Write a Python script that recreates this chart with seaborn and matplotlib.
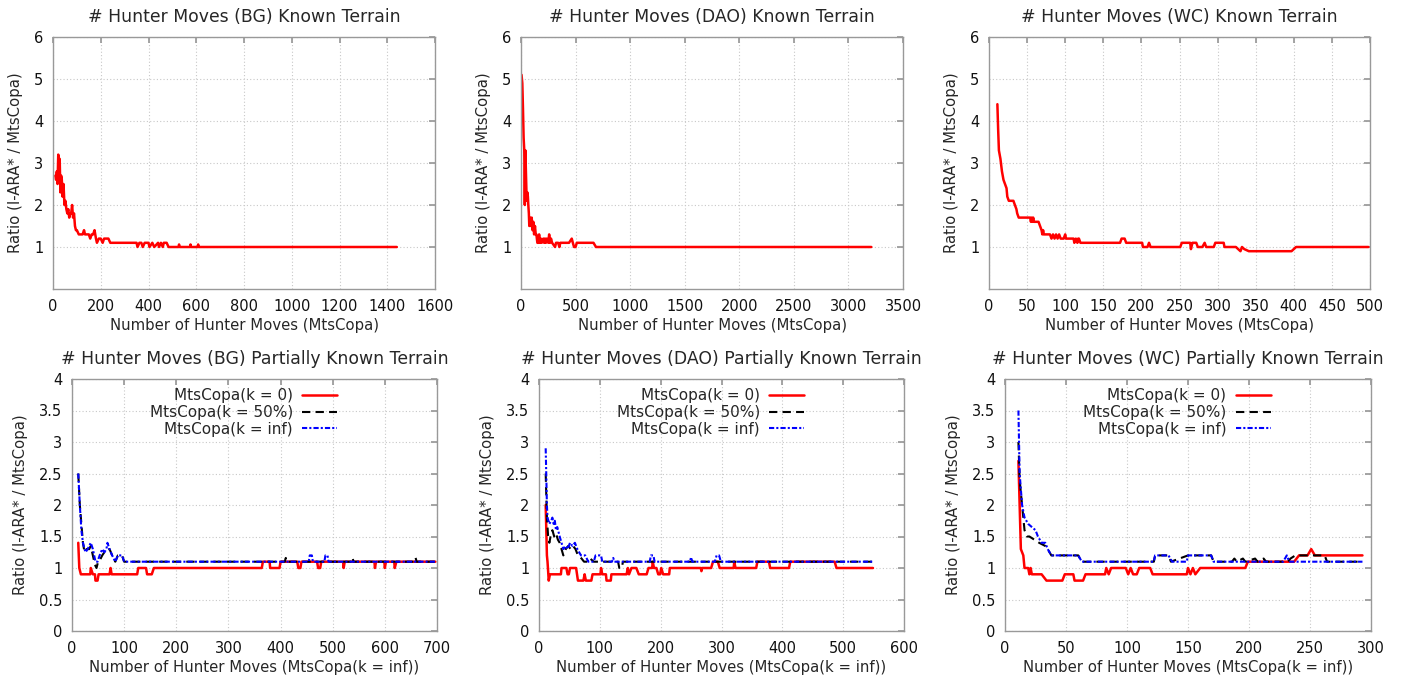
import numpy as np
import matplotlib
matplotlib.use("Agg")
import matplotlib.pyplot as plt
import seaborn as sns

# ---- data: (moves, ratio) pairs ----
bg_known = [(10, 2.7), (13, 2.6), (16, 2.8), (19, 2.5), (22, 3.2), (25, 3.0), (28, 3.1), (31, 2.3),
            (34, 2.7), (37, 2.6), (40, 2.2), (44, 2.5), (48, 2.0), (52, 2.1), (56, 1.9), (60, 1.8),
            (64, 1.9), (68, 1.7), (72, 1.8), (76, 1.8), (80, 2.0), (84, 1.7), (88, 1.8), (92, 1.5),
            (96, 1.4), (100, 1.4), (108, 1.3), (124, 1.3), (130, 1.4), (134, 1.3), (150, 1.3),
            (156, 1.2), (162, 1.3), (168, 1.3), (174, 1.4), (180, 1.2), (184, 1.1), (192, 1.2),
            (200, 1.2), (208, 1.1), (214, 1.2), (232, 1.2), (240, 1.1), (350, 1.1), (354, 1.0),
            (362, 1.1), (370, 1.1), (376, 1.0), (384, 1.1), (400, 1.1), (404, 1.0), (416, 1.1),
            (424, 1.0), (440, 1.1), (444, 1.0), (452, 1.1), (460, 1.0), (464, 1.1), (476, 1.1),
            (484, 1.0), (526, 1.0), (528, 1.06), (530, 1.0), (574, 1.0), (576, 1.06), (578, 1.0),
            (606, 1.0), (608, 1.06), (610, 1.0), (1440, 1.0)]

dao_known = [(5, 5.1), (12, 4.9), (18, 4.3), (24, 3.6), (30, 3.3), (35, 2.0), (40, 3.3), (45, 2.8),
             (52, 2.1), (58, 2.3), (63, 2.2), (67, 2.0), (72, 1.8), (76, 1.5), (83, 1.7), (90, 1.5),
             (98, 1.7), (106, 1.4), (113, 1.6), (120, 1.3), (128, 1.5), (135, 1.3), (141, 1.3),
             (150, 1.1), (159, 1.1), (166, 1.3), (174, 1.1), (182, 1.2), (190, 1.1), (205, 1.2),
             (212, 1.1), (220, 1.2), (228, 1.1), (236, 1.2), (250, 1.1), (258, 1.3), (266, 1.1),
             (275, 1.2), (285, 1.1), (312, 1.0), (321, 1.1), (340, 1.1), (352, 1.0), (360, 1.1),
             (440, 1.1), (465, 1.2), (475, 1.1), (486, 1.0), (500, 1.0), (511, 1.1), (664, 1.1),
             (687, 1.0), (3210, 1.0)]

wc_known = [(11, 4.4), (12, 3.8), (13, 3.3), (15, 3.1), (17, 2.8), (19, 2.6), (21, 2.5), (23, 2.4),
            (24, 2.2), (26, 2.1), (32, 2.1), (34, 2.0), (36, 1.9), (37, 1.8), (39, 1.7), (54, 1.7),
            (55, 1.6), (56, 1.7), (57, 1.6), (58, 1.7), (59, 1.6), (65, 1.6), (67, 1.5), (69, 1.4),
            (70, 1.3), (71, 1.4), (72, 1.3), (80, 1.3), (82, 1.2), (84, 1.3), (86, 1.2), (88, 1.3),
            (90, 1.2), (92, 1.3), (94, 1.2), (98, 1.2), (100, 1.3), (101, 1.2), (111, 1.2),
            (112, 1.1), (114, 1.2), (116, 1.1), (117, 1.2), (118, 1.2), (120, 1.1), (172, 1.1),
            (174, 1.2), (178, 1.2), (180, 1.1), (201, 1.1), (202, 1.0), (208, 1.0), (210, 1.1),
            (212, 1.0), (251, 1.0), (253, 1.1), (264, 1.1), (265, 0.95), (267, 1.1), (272, 1.1),
            (274, 1.0), (280, 1.0), (283, 1.1), (285, 1.0), (295, 1.0), (297, 1.1), (308, 1.1),
            (309, 1.0), (324, 1.0), (330, 0.9), (332, 1.0), (335, 0.95), (341, 0.9), (397, 0.9),
            (403, 1.0), (498, 1.0)]

bg_k0 = [(12, 1.4), (14, 1.0), (17, 0.9), (35, 0.9), (36, 1.0), (40, 0.9), (44, 0.9), (45, 0.8),
         (49, 0.8), (51, 0.9), (72, 0.9), (74, 1.0), (76, 0.9), (125, 0.9), (127, 1.0), (142, 1.0),
         (144, 0.9), (153, 0.9), (157, 1.0), (364, 1.0), (366, 1.1), (379, 1.1), (380, 1.0),
         (398, 1.0), (400, 1.1), (432, 1.1), (434, 1.0), (438, 1.0), (440, 1.1), (470, 1.1),
         (472, 1.0), (476, 1.0), (478, 1.1), (520, 1.1), (521, 1.0), (523, 1.1), (580, 1.1),
         (581, 1.0), (583, 1.1), (599, 1.1), (600, 1.0), (602, 1.1), (618, 1.1), (619, 1.0),
         (622, 1.1), (697, 1.1)]
bg_k50 = [(12, 2.5), (15, 2.0), (18, 1.7), (21, 1.4), (24, 1.25), (28, 1.3), (33, 1.3), (36, 1.35),
          (40, 1.2), (44, 1.05), (47, 1.0), (50, 1.1), (55, 1.15), (58, 1.2), (62, 1.25), (66, 1.3),
          (72, 1.3), (77, 1.2), (83, 1.1), (88, 1.2), (96, 1.2), (100, 1.1), (408, 1.1), (410, 1.16),
          (412, 1.1), (536, 1.1), (538, 1.16), (540, 1.1), (657, 1.1), (659, 1.16), (661, 1.1),
          (697, 1.1)]
bg_kinf = [(12, 2.5), (15, 2.0), (18, 1.6), (21, 1.4), (24, 1.3), (26, 1.25), (30, 1.3), (33, 1.35),
           (36, 1.4), (40, 1.3), (45, 1.1), (49, 1.1), (53, 1.2), (58, 1.3), (62, 1.25), (66, 1.3),
           (68, 1.4), (72, 1.3), (77, 1.2), (83, 1.1), (88, 1.2), (96, 1.2), (100, 1.1), (454, 1.1),
           (456, 1.2), (460, 1.2), (462, 1.1), (484, 1.1), (486, 1.2), (490, 1.2), (492, 1.1),
           (697, 1.1)]

dao_k0 = [(11, 2.0), (13, 1.2), (14, 1.1), (16, 0.8), (18, 0.9), (36, 0.9), (37, 1.0), (45, 1.0),
          (47, 0.9), (49, 0.9), (51, 1.0), (61, 1.0), (64, 0.8), (73, 0.8), (75, 0.9), (77, 0.8),
          (86, 0.8), (88, 0.9), (101, 0.9), (102, 1.0), (104, 0.9), (110, 0.9), (111, 0.8),
          (118, 0.8), (119, 0.9), (144, 0.9), (146, 1.0), (148, 0.9), (152, 1.0), (160, 1.0),
          (164, 0.9), (177, 0.9), (180, 1.0), (186, 1.0), (187, 1.1), (189, 1.0), (193, 1.0),
          (196, 0.9), (199, 0.9), (201, 1.0), (204, 0.9), (214, 0.9), (215, 1.0), (266, 1.0),
          (267, 0.95), (268, 1.0), (283, 1.0), (286, 1.1), (294, 1.1), (297, 1.0), (320, 1.0),
          (321, 1.1), (323, 1.0), (357, 1.0), (359, 1.1), (378, 1.1), (380, 1.0), (411, 1.0),
          (413, 1.1), (486, 1.1), (489, 1.0), (549, 1.0)]
dao_k50 = [(11, 2.5), (13, 1.8), (15, 1.5), (17, 1.4), (19, 1.5), (22, 1.6), (25, 1.5), (28, 1.55),
           (31, 1.45), (34, 1.4), (37, 1.3), (40, 1.2), (44, 1.3), (48, 1.35), (52, 1.3), (56, 1.35),
           (60, 1.3), (64, 1.2), (70, 1.15), (74, 1.1), (80, 1.1), (84, 1.15), (90, 1.1), (130, 1.1),
           (132, 1.0), (136, 1.0), (138, 1.1), (549, 1.1)]
dao_kinf = [(11, 2.9), (13, 2.0), (14, 1.8), (17, 1.7), (20, 1.75), (22, 1.8), (24, 1.7), (26, 1.75),
            (28, 1.6), (30, 1.65), (34, 1.5), (37, 1.4), (40, 1.3), (44, 1.35), (47, 1.3), (51, 1.4),
            (55, 1.35), (59, 1.4), (63, 1.3), (66, 1.25), (69, 1.2), (76, 1.2), (81, 1.1), (90, 1.1),
            (93, 1.2), (102, 1.2), (104, 1.1), (120, 1.1), (122, 1.16), (124, 1.1), (182, 1.1),
            (184, 1.2), (188, 1.2), (190, 1.1), (248, 1.1), (250, 1.17), (252, 1.1), (289, 1.1),
            (292, 1.2), (296, 1.2), (299, 1.1), (549, 1.1)]

wc_k0 = [(11, 2.7), (12, 2.0), (13, 1.3), (15, 1.2), (16, 1.0), (19, 1.0), (20, 0.9), (21, 1.0),
         (22, 0.9), (30, 0.9), (32, 0.85), (34, 0.8), (47, 0.8), (49, 0.9), (56, 0.9), (57, 0.8),
         (64, 0.8), (66, 0.9), (82, 0.9), (83, 1.0), (85, 0.9), (87, 1.0), (99, 1.0), (101, 0.9),
         (103, 1.0), (105, 0.9), (108, 0.9), (110, 1.0), (119, 1.0), (121, 0.9), (149, 0.9),
         (150, 1.0), (152, 0.9), (154, 1.0), (156, 0.9), (160, 1.0), (197, 1.0), (199, 1.1),
         (237, 1.1), (241, 1.2), (248, 1.2), (251, 1.3), (254, 1.2), (293, 1.2)]
wc_k50 = [(11, 3.0), (12, 2.4), (14, 2.0), (16, 1.6), (18, 1.5), (20, 1.5), (24, 1.45), (28, 1.4),
          (33, 1.35), (35, 1.3), (38, 1.2), (60, 1.2), (63, 1.1), (122, 1.1), (123, 1.2), (134, 1.2),
          (136, 1.1), (150, 1.2), (169, 1.2), (171, 1.1), (186, 1.1), (188, 1.15), (190, 1.1),
          (195, 1.15), (197, 1.1), (205, 1.15), (207, 1.1), (212, 1.15), (214, 1.1), (232, 1.1),
          (234, 1.15), (238, 1.2), (262, 1.2), (264, 1.1), (293, 1.1)]
wc_kinf = [(11, 3.5), (12, 2.5), (14, 2.0), (16, 1.8), (19, 1.7), (22, 1.65), (25, 1.6), (27, 1.5),
           (30, 1.4), (33, 1.4), (35, 1.3), (38, 1.2), (60, 1.2), (63, 1.1), (122, 1.1), (123, 1.2),
           (134, 1.2), (137, 1.1), (149, 1.1), (150, 1.2), (169, 1.2), (171, 1.1), (228, 1.1),
           (231, 1.2), (233, 1.1), (293, 1.1)]

known_titles = ["# Hunter Moves (BG) Known Terrain", "# Hunter Moves (DAO) Known Terrain",
                "# Hunter Moves (WC) Known Terrain"]
partial_titles = ["# Hunter Moves (BG) Partially Known Terrain",
                  "# Hunter Moves (DAO) Partially Known Terrain",
                  "# Hunter Moves (WC) Partially Known Terrain"]
known_xmax = [1600, 3500, 500]
known_xstep = [200, 500, 50]
partial_xmax = [700, 600, 300]
partial_xstep = [100, 100, 50]
series_labels = ["MtsCopa(k = 0)", "MtsCopa(k = 50%)", "MtsCopa(k = inf)"]

sns.set_theme(style="white")
plt.rcParams["font.family"] = ["DejaVu Sans"]

W, H = 1401, 676
fig = plt.figure(figsize=(W / 100, H / 100), dpi=100)


def make_axes(l, t, r, b):
    return fig.add_axes([l / W, 1 - b / H, (r - l) / W, (b - t) / H])


def style_axes(ax):
    for s in ax.spines.values():
        s.set_color("#999999")
        s.set_linewidth(1.0)
    ax.grid(True, color="#c8c8c8", linestyle=(0, (1, 2)), linewidth=0.8)
    ax.tick_params(direction="in", length=4, top=True, right=True, color="#999999",
                   labelsize=10.5, pad=7, labelcolor="#111111")


top_boxes = [(53, 37, 435, 289), (521, 37, 903, 289), (989, 37, 1370, 289)]
bot_boxes = [(72, 379, 437, 631), (539, 379, 904, 631), (1005, 379, 1371, 631)]

known_data = [bg_known, dao_known, wc_known]
partial_data = [(bg_k0, bg_k50, bg_kinf), (dao_k0, dao_k50, dao_kinf), (wc_k0, wc_k50, wc_kinf)]

for i in range(3):
    ax = make_axes(*top_boxes[i])
    x, y = zip(*known_data[i])
    sns.lineplot(x=list(x), y=list(y), ax=ax, color="#ff0000", lw=1.8, sort=False, estimator=None)
    ax.set_xlim(0, known_xmax[i])
    ax.set_ylim(0, 6)
    ax.set_xticks(np.arange(0, known_xmax[i] + 1, known_xstep[i]))
    ax.set_yticks([1, 2, 3, 4, 5, 6])
    style_axes(ax)
    ax.set_title(known_titles[i], fontsize=12.4, pad=11)
    ax.set_xlabel("Number of Hunter Moves (MtsCopa)", fontsize=10.7, labelpad=3)
    ax.set_ylabel("Ratio (I-ARA* / MtsCopa)", fontsize=10.7, labelpad=8)

styles = [("#ff0000", "-", 1.8), ("#000000", (0, (4, 2.5)), 1.5), ("#0000ff", (0, (2.5, 1, 1, 1)), 1.5)]

for i in range(3):
    ax = make_axes(*bot_boxes[i])
    for data, lab, (c, ls, lw) in zip(partial_data[i], series_labels, styles):
        x, y = zip(*data)
        sns.lineplot(x=list(x), y=list(y), ax=ax, color=c, linestyle=ls, lw=lw,
                     sort=False, estimator=None, label=lab)
    ax.set_xlim(0, partial_xmax[i])
    ax.set_ylim(0, 4)
    ax.set_xticks(np.arange(0, partial_xmax[i] + 1, partial_xstep[i]))
    ax.set_yticks(np.arange(0, 4.01, 0.5))
    ax.set_yticklabels(["0", "0.5", "1", "1.5", "2", "2.5", "3", "3.5", "4"])
    style_axes(ax)
    ax.set_title(partial_titles[i], fontsize=12.4, pad=11)
    ax.set_xlabel("Number of Hunter Moves (MtsCopa(k = inf))", fontsize=10.7, labelpad=3)
    ax.set_ylabel("Ratio (I-ARA* / MtsCopa)", fontsize=10.7, labelpad=8)
    ax.legend(loc="upper center", bbox_to_anchor=(0.47, 1.0), frameon=False, markerfirst=False,
              fontsize=11, labelspacing=0.12, handlelength=2.3, handletextpad=0.6,
              borderaxespad=0.2)

fig.savefig("out.png", dpi=100, facecolor="white")
